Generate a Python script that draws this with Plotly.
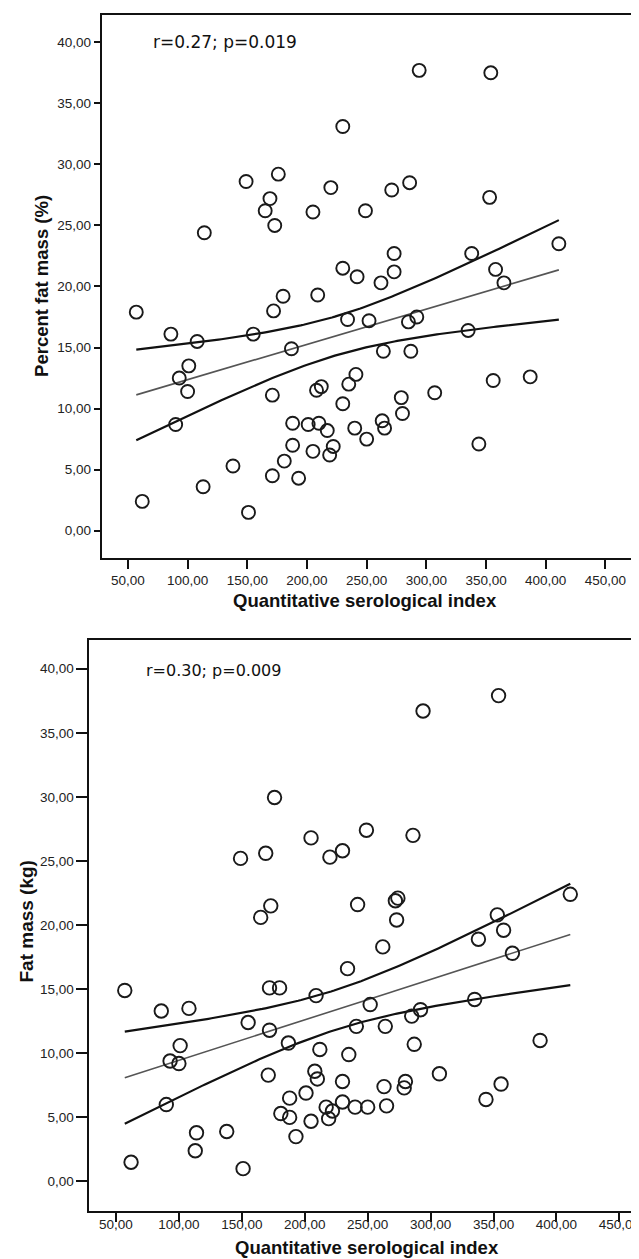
import numpy as np
import plotly.graph_objects as go

# ---------------- data ----------------
sero_top = [294, 354, 230, 149, 176, 220, 286, 271, 169, 165,
            205, 249, 353, 173, 114, 411, 338, 273, 230, 242,
            273, 262, 358, 365, 180, 209, 57, 172, 234, 252,
            285, 292, 335, 86, 155, 108, 187, 264, 287, 101,
            93, 100, 241, 235, 212, 208, 171, 307, 356, 387,
            279, 230, 280, 90, 188, 201, 210, 217, 240, 263,
            265, 250, 188, 222, 205, 219, 344, 181, 138, 171,
            193, 113, 62, 151]
pct_fat = [37.7, 37.5, 33.1, 28.6, 29.2, 28.1, 28.5, 27.9, 27.2, 26.2,
           26.1, 26.2, 27.3, 25.0, 24.4, 23.5, 22.7, 22.7, 21.5, 20.8,
           21.2, 20.3, 21.4, 20.3, 19.2, 19.3, 17.9, 18.0, 17.3, 17.2,
           17.1, 17.5, 16.4, 16.1, 16.1, 15.5, 14.9, 14.7, 14.7, 13.5,
           12.5, 11.4, 12.8, 12.0, 11.8, 11.5, 11.1, 11.3, 12.3, 12.6,
           10.9, 10.4, 9.6, 8.7, 8.8, 8.7, 8.8, 8.2, 8.4, 9.0,
           8.4, 7.5, 7.0, 6.9, 6.5, 6.2, 7.1, 5.7, 5.3, 4.5,
           4.3, 3.6, 2.4, 1.5]

sero_bottom = [354, 294, 176, 249, 286, 205, 230, 220, 169, 149,
               411, 272, 274, 242, 173, 165, 273, 353, 358, 338,
               262, 365, 234, 57, 172, 180, 209, 86, 108, 252,
               335, 292, 285, 155, 172, 241, 264, 101, 187, 212,
               287, 387, 235, 93, 100, 171, 208, 210, 230, 280,
               279, 263, 307, 356, 344, 90, 201, 188, 230, 217,
               222, 240, 250, 265, 181, 188, 205, 219, 138, 114,
               193, 113, 62, 151]
fat_kg = [37.9, 36.7, 29.95, 27.4, 27.0, 26.8, 25.8, 25.3, 25.6, 25.2,
          22.4, 21.9, 22.1, 21.6, 21.5, 20.6, 20.4, 20.8, 19.6, 18.9,
          18.3, 17.8, 16.6, 14.9, 15.1, 15.1, 14.5, 13.3, 13.5, 13.8,
          14.2, 13.4, 12.9, 12.4, 11.8, 12.1, 12.1, 10.6, 10.8, 10.3,
          10.7, 11.0, 9.9, 9.4, 9.2, 8.3, 8.6, 8.0, 7.8, 7.8,
          7.3, 7.4, 8.4, 7.6, 6.4, 6.0, 6.9, 6.5, 6.2, 5.8,
          5.5, 5.8, 5.8, 5.9, 5.3, 5.0, 4.7, 4.9, 3.9, 3.8,
          3.5, 2.4, 1.5, 1.0]

x_tick_vals = [50, 100, 150, 200, 250, 300, 350, 400, 450]
x_tick_text = ["50,00", "100,00", "150,00", "200,00", "250,00",
               "300,00", "350,00", "400,00", "450,00"]
y_tick_vals = [0, 5, 10, 15, 20, 25, 30, 35, 40]
y_tick_text = ["0,00", "5,00", "10,00", "15,00", "20,00",
               "25,00", "30,00", "35,00", "40,00"]

x_title = "Quantitative serological index"
y_title_top = "Percent fat mass (%)"
y_title_bottom = "Fat mass (kg)"
stat_top = "r=0.27; p=0.019"
stat_bottom = "r=0.30; p=0.009"

T_CRIT = 1.666  # 90 % confidence band for the mean, df = 72


def fit_with_band(x, y, n_pts=150):
    x = np.asarray(x, float)
    y = np.asarray(y, float)
    n = len(x)
    b1, b0 = np.polyfit(x, y, 1)
    resid = y - (b0 + b1 * x)
    s = np.sqrt(np.sum(resid ** 2) / (n - 2))
    xbar = x.mean()
    sxx = np.sum((x - xbar) ** 2)
    xs = np.linspace(x.min(), x.max(), n_pts)
    yhat = b0 + b1 * xs
    se = s * np.sqrt(1.0 / n + (xs - xbar) ** 2 / sxx)
    return xs, yhat, yhat - T_CRIT * se, yhat + T_CRIT * se


W, H = 639, 1259
fig = go.Figure()


def add_panel(x, y, xa, ya, msize):
    xs, yhat, lo, hi = fit_with_band(x, y)
    for band in (lo, hi):
        fig.add_trace(go.Scatter(x=xs, y=band, mode="lines",
                                 line=dict(color="#111111", width=2.2),
                                 xaxis=xa, yaxis=ya, hoverinfo="skip"))
    fig.add_trace(go.Scatter(x=xs, y=yhat, mode="lines",
                             line=dict(color="#555555", width=1.6),
                             xaxis=xa, yaxis=ya, hoverinfo="skip"))
    fig.add_trace(go.Scatter(x=x, y=y, mode="markers",
                             marker=dict(symbol="circle-open", size=msize,
                                         color="#1a1a1a",
                                         line=dict(width=1.9)),
                             xaxis=xa, yaxis=ya))


add_panel(sero_top, pct_fat, "x", "y", 13)
add_panel(sero_bottom, fat_kg, "x2", "y2", 13.5)

FONT_SANS = "Liberation Sans, Arial, sans-serif"
tick_font = dict(family=FONT_SANS, size=13.5, color="#222222")
stat_family = "DejaVu Sans, Verdana, sans-serif"


def px(v):
    return v / W


def py(v):
    return 1 - v / H


axis_common = dict(showline=True, mirror=True, linecolor="#111111", linewidth=2,
                   showgrid=False, zeroline=False, ticks="outside",
                   tickcolor="#111111", tickwidth=2, tickfont=tick_font,
                   tickmode="array")


def ann(text, x, y, size, family=FONT_SANS, angle=0, xanchor="center"):
    return dict(text=text, xref="paper", yref="paper", x=px(x), y=py(y),
                xanchor=xanchor, yanchor="middle", showarrow=False,
                borderpad=0, textangle=angle,
                font=dict(family=family, size=size, color="#111111"))


fig.update_layout(
    width=W, height=H, margin=dict(l=0, r=0, t=0, b=0),
    paper_bgcolor="white", plot_bgcolor="white", showlegend=False,
    xaxis=dict(axis_common, domain=[px(94), px(625.5)], range=[28.04, 471.9],
               anchor="y", tickvals=x_tick_vals, ticktext=x_tick_text, ticklen=9),
    yaxis=dict(axis_common, domain=[py(550), py(7.3)], range=[-2.236, 42.21],
               anchor="x", tickvals=y_tick_vals, ticktext=y_tick_text, ticklen=6),
    xaxis2=dict(axis_common, domain=[px(81.7), px(638.5)], range=[28.93, 469.96],
                anchor="y2", tickvals=x_tick_vals, ticktext=x_tick_text, ticklen=9.5,
                ticklabelstandoff=-9),
    yaxis2=dict(axis_common, domain=[py(1202.7), py(631.7)], range=[-2.278, 42.26],
                anchor="x2", tickvals=y_tick_vals, ticktext=y_tick_text, ticklen=11),
    annotations=[
        ann("<b>" + x_title + "</b>", 358.4, 592.4, 18.5),
        ann("<b>" + y_title_top + "</b>", 33.5, 277.5, 18.5, angle=-90),
        ann(stat_top, 144.8, 34.3, 17, family=stat_family, xanchor="left"),
        ann("<b>" + x_title + "</b>", 360.6, 1239.5, 18.5),
        ann("<b>" + y_title_bottom + "</b>", 18.2, 913.4, 19, angle=-90),
        ann(stat_bottom, 137.6, 662.7, 16, family=stat_family, xanchor="left"),
    ],
)

fig.write_html("out.html")
